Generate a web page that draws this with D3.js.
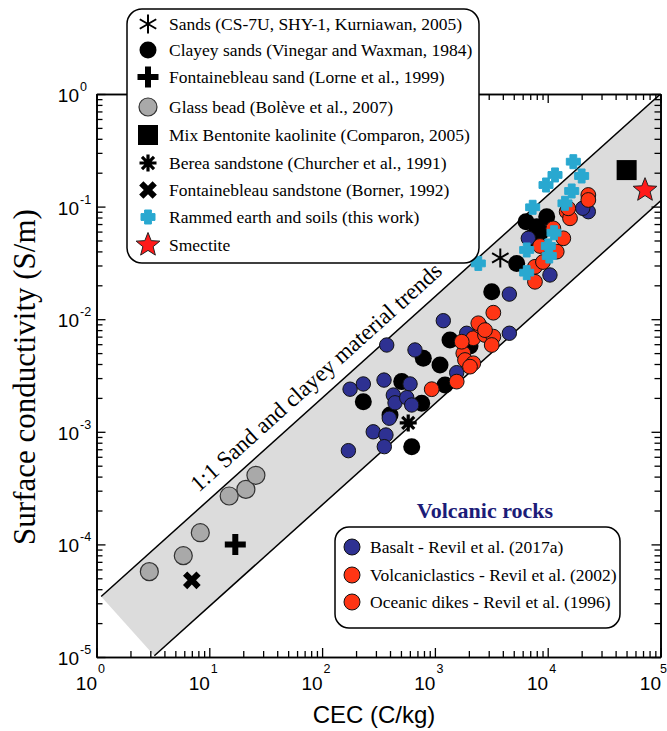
<!DOCTYPE html>
<html>
<head>
<meta charset="utf-8">
<script src="https://cdn.jsdelivr.net/npm/d3@7"></script>
<style>
  body { margin: 0; background: #fff; }
  svg { display: block; }
</style>
</head>
<body>
<svg id="chart" width="667" height="731"></svg>
<script>
// ---- data: [CEC (C/kg), surface conductivity (S/m)] ----
const sands = [[3800, 0.035]];
const clayeySands = [
  [789, 4.5e-3], [1361, 6.54e-3], [1110, 3.92e-3], [508, 2.79e-3], [232, 1.85e-3],
  [764, 1.79e-3], [400, 1.41e-3], [1230, 2.61e-3], [623, 7.38e-4], [2047, 5.78e-3],
  [3190, 0.0175], [5310, 0.0313], [6430, 0.0734], [7990, 0.0663], [9800, 0.0813],
  [7110, 0.0526], [8710, 0.0595]
];
const fontainebleauSand = [[17, 1.0e-4]];
const glassBeads = [[2.94, 5.73e-5], [5.88, 7.94e-5], [8.32, 1.27e-4], [15.0, 2.69e-4], [21.1, 3.08e-4], [25.9, 4.11e-4]];
const bentoniteKaolinite = [[50100, 0.211]];
const bereaSandstone = [[580, 1.2e-3]];
const fontainebleauSandstone = [[7, 4.8e-5]];
const rammedEarth = [
  [2426, 0.0313], [7360, 0.0986], [9660, 0.1555], [11610, 0.191], [16870, 0.2505],
  [20000, 0.187], [16330, 0.1376], [14230, 0.107], [11380, 0.0586], [10120, 0.0447],
  [10330, 0.0364], [6516, 0.0412], [6516, 0.0259]
];
const smectite = [[72900, 0.14]];
const basalt = [
  [1187, 9.7e-3], [374, 5.9e-3], [666, 5.33e-3], [177, 2.39e-3], [232, 2.66e-3],
  [354, 2.88e-3], [602, 2.66e-3], [428, 2.12e-3], [443, 1.81e-3], [563, 2.01e-3],
  [623, 1.73e-3], [394, 1.32e-3], [284, 1.0e-3], [368, 9.37e-4], [356, 7.38e-4],
  [171, 6.8e-4], [1560, 3.35e-3], [1914, 7.5e-3], [4571, 0.0167], [4571, 7.5e-3],
  [10470, 0.0247], [22910, 0.0901], [20420, 0.0966], [6730, 0.0523]
];
const volcaniclastics = [
  [22910, 0.1268], [22910, 0.1145], [14730, 0.0901], [15770, 0.0787], [15200, 0.0966],
  [11220, 0.0641], [13750, 0.0523], [8550, 0.0447], [12020, 0.0398], [7710, 0.0292],
  [7710, 0.0215], [9080, 0.0322]
];
const oceanicDikes = [
  [937, 2.39e-3], [1560, 2.79e-3], [1786, 4.98e-3], [1849, 4.34e-3], [2188, 4.06e-3],
  [2047, 3.79e-3], [2188, 6.77e-3], [2780, 7.24e-3], [3296, 7.0e-3], [3190, 5.9e-3],
  [2512, 8.7e-3], [3296, 0.01142], [2426, 9.2e-3], [2780, 8.0e-3], [1729, 6.31e-3]
];

// trend band: log-log line, upper edge reaches 1 S/m at CEC = 1e5
const bandSlope = 0.9;
const bandTopAt1e5 = 1;
const bandWidthDecades = 0.95;
const bandStartCEC = 1.1;
const bandLabel = "1:1 Sand and clayey material trends";
const bandLabelCEC = 9.5;

const xMajor = [1, 10, 100, 1000, 10000, 100000];
const yMajor = [1e-5, 1e-4, 1e-3, 1e-2, 1e-1, 1];
const xExponents = ["0", "1", "2", "3", "4", "5"];
const yExponents = ["-5", "-4", "-3", "-2", "-1", "0"];

const legendMain = [
  "Sands (CS-7U, SHY-1, Kurniawan, 2005)",
  "Clayey sands (Vinegar and Waxman, 1984)",
  "Fontainebleau sand (Lorne et al., 1999)",
  "Glass bead (Bolève et al., 2007)",
  "Mix Bentonite kaolinite (Comparon, 2005)",
  "Berea sandstone (Churcher et al., 1991)",
  "Fontainebleau sandstone (Borner, 1992)",
  "Rammed earth and soils (this work)",
  "Smectite"
];
const legendVolcanic = [
  "Basalt - Revil et al. (2017a)",
  "Volcaniclastics - Revil et al. (2002)",
  "Oceanic dikes - Revil et al. (1996)"
];

// ---- setup ----
const W = 667;
const svg = d3.select("#chart");
const L = 96.5, R = 660.5, T = 94, B = 657;
const x = d3.scaleLog().domain([1, 1e5]).range([L, R]);
const y = d3.scaleLog().domain([1e-5, 1]).range([B, T]);

const BLUE = "#2e3192", RED = "#ff3514", CYAN = "#29a8d0", GREY = "#a9a9a9";
const serif = "'Liberation Serif', 'Times New Roman', serif";
const sans = "'Liberation Sans', Arial, sans-serif";

svg.append("defs").append("clipPath").attr("id", "plot-clip")
  .append("rect").attr("x", L).attr("y", T).attr("width", R - L).attr("height", B - T);

// ---- band ----
const upperEdge = c => bandTopAt1e5 * Math.pow(c / 1e5, bandSlope);
const lowerEdge = c => upperEdge(c) * Math.pow(10, -bandWidthDecades);
const U0 = [x(bandStartCEC), y(upperEdge(bandStartCEC))];
const U1 = [x(1e6), y(upperEdge(1e6))];
const L0 = [x(1), y(lowerEdge(1))];
const L1 = [x(1e6), y(lowerEdge(1e6))];
// foot of the perpendicular from the band start onto the lower edge
const dx = L1[0] - L0[0], dy = L1[1] - L0[1];
const t = ((U0[0] - L0[0]) * dx + (U0[1] - L0[1]) * dy) / (dx * dx + dy * dy);
const F = [L0[0] + t * dx, L0[1] + t * dy];

const band = svg.append("g").attr("clip-path", "url(#plot-clip)");
band.append("path")
  .attr("d", d3.line()([U0, U1, L1, F]) + "Z")
  .attr("fill", "#dcdcdc");
band.append("path").attr("d", d3.line()([U0, U1]))
  .attr("stroke", "#000").attr("stroke-width", 1.5).attr("fill", "none");
band.append("path").attr("d", d3.line()([F, L1]))
  .attr("stroke", "#000").attr("stroke-width", 1.5).attr("fill", "none");

// band label, parallel to the upper edge
const ang = Math.atan2(U1[1] - U0[1], U1[0] - U0[0]) * 180 / Math.PI;
svg.append("text")
  .attr("transform", `translate(${x(bandLabelCEC)},${y(upperEdge(bandLabelCEC))}) rotate(${ang})`)
  .attr("x", 0).attr("y", -12)
  .attr("font-family", serif).attr("font-size", 23)
  .text(bandLabel);

// ---- axes (ticks inward on all four sides) ----
const xMinor = [], yMinor = [];
for (let k = 0; k < 5; k++) for (let m = 2; m <= 9; m++) {
  xMinor.push(m * Math.pow(10, k));
  yMinor.push(m * Math.pow(10, k - 5));
}
function drawAxis(axisFn, scale, major, minor, transform) {
  const g1 = svg.append("g").attr("transform", transform)
    .call(axisFn(scale).tickValues(major).tickSize(-9).tickSizeOuter(0).tickFormat(""));
  const g2 = svg.append("g").attr("transform", transform)
    .call(axisFn(scale).tickValues(minor).tickSize(-6).tickSizeOuter(0).tickFormat(""));
  [g1, g2].forEach(g => {
    g.selectAll("line").attr("stroke", "#000").attr("stroke-width", 1.3);
    g.select(".domain").attr("stroke", "#000").attr("stroke-width", 1.6);
  });
}
drawAxis(d3.axisBottom, x, xMajor, xMinor, `translate(0,${B})`);
drawAxis(d3.axisTop, x, xMajor, xMinor, `translate(0,${T})`);
drawAxis(d3.axisLeft, y, yMajor, yMinor, `translate(${L},0)`);
drawAxis(d3.axisRight, y, yMajor, yMinor, `translate(${R},0)`);

// tick labels: 10 with a superscript exponent
const xl = svg.append("g").attr("font-family", sans).attr("fill", "#000");
xMajor.forEach((v, i) => {
  xl.append("text").attr("x", x(v) + 0.5).attr("y", 690).attr("text-anchor", "end")
    .attr("font-size", 19).text("10");
  xl.append("text").attr("x", Math.min(x(v) + 1.5, W - 7)).attr("y", 673)
    .attr("font-size", 12.5).text(xExponents[i]);
});
const yl = svg.append("g").attr("font-family", sans).attr("fill", "#000");
yMajor.forEach((v, i) => {
  yl.append("text").attr("x", 79).attr("y", y(v) + 8).attr("text-anchor", "end")
    .attr("font-size", 19).text("10");
  yl.append("text").attr("x", 80).attr("y", y(v) - 3).attr("font-size", 12.5).text(yExponents[i]);
});

// axis titles
svg.append("text").attr("x", 374).attr("y", 723).attr("text-anchor", "middle")
  .attr("font-family", sans).attr("font-size", 24).text("CEC (C/kg)");
svg.append("text").attr("transform", "translate(35,377) rotate(-90)")
  .attr("text-anchor", "middle").attr("font-family", serif).attr("font-size", 31)
  .text("Surface conductivity (S/m)");

// ---- marker shapes ----
function plusPath(ext, hw) {
  return `M${-hw},${-ext}H${hw}V${-hw}H${ext}V${hw}H${hw}V${ext}H${-hw}V${hw}H${-ext}V${-hw}H${-hw}Z`;
}
function starPath(ro, ri) {
  const pts = [];
  for (let i = 0; i < 10; i++) {
    const r = i % 2 ? ri : ro, a = -Math.PI / 2 + i * Math.PI / 5;
    pts.push([r * Math.cos(a), r * Math.sin(a)]);
  }
  return d3.line()(pts) + "Z";
}
function asteriskPath(r, angles) {
  return angles.map(a => {
    const c = Math.cos(a * Math.PI / 180) * r, s = Math.sin(a * Math.PI / 180) * r;
    return `M${-c},${-s}L${c},${s}`;
  }).join("");
}
const markers = {
  sands: g => g.append("path").attr("d", asteriskPath(9.5, [90, 30, 150]))
    .attr("stroke", "#000").attr("stroke-width", 2).attr("fill", "none"),
  clay: g => g.append("circle").attr("r", 8.5).attr("fill", "#000"),
  plus: g => g.append("path").attr("d", plusPath(10.5, 3)).attr("fill", "#000"),
  bead: g => g.append("circle").attr("r", 9).attr("fill", GREY).attr("stroke", "#333").attr("stroke-width", 1.2),
  square: g => g.append("rect").attr("x", -10).attr("y", -10).attr("width", 20).attr("height", 20).attr("fill", "#000"),
  berea: g => g.append("path").attr("d", asteriskPath(8.5, [0, 45, 90, 135]))
    .attr("stroke", "#000").attr("stroke-width", 3.2).attr("fill", "none"),
  cross: g => g.append("path").attr("d", plusPath(9.5, 3)).attr("fill", "#000").attr("transform", "rotate(45)"),
  rammed: g => g.append("path").attr("d", plusPath(7, 3.4)).attr("fill", CYAN).attr("stroke", CYAN)
    .attr("stroke-width", 1).attr("stroke-linejoin", "round"),
  star: g => g.append("path").attr("d", starPath(12.5, 5.4)).attr("fill", "#ff1a1a")
    .attr("stroke", "#222").attr("stroke-width", 1),
  basalt: g => g.append("circle").attr("r", 7.2).attr("fill", BLUE).attr("stroke", "#111").attr("stroke-width", 1),
  red: g => g.append("circle").attr("r", 7.4).attr("fill", RED).attr("stroke", "#111").attr("stroke-width", 1)
};

function plotSeries(data, shape) {
  const g = svg.append("g").attr("clip-path", "url(#plot-clip)");
  data.forEach(d => {
    const m = g.append("g").attr("transform", `translate(${x(d[0])},${y(d[1])})`);
    markers[shape](m);
  });
}
plotSeries(clayeySands, "clay");
plotSeries(basalt, "basalt");
plotSeries(oceanicDikes, "red");
plotSeries(volcaniclastics, "red");
plotSeries(rammedEarth, "rammed");
plotSeries(glassBeads, "bead");
plotSeries(fontainebleauSand, "plus");
plotSeries(fontainebleauSandstone, "cross");
plotSeries(bereaSandstone, "berea");
plotSeries(sands, "sands");
plotSeries(bentoniteKaolinite, "square");
plotSeries(smectite, "star");

// ---- main legend ----
const lg = svg.append("g");
lg.append("rect").attr("x", 127).attr("y", 9).attr("width", 352).attr("height", 254)
  .attr("rx", 15).attr("ry", 15).attr("fill", "#fff").attr("stroke", "#000").attr("stroke-width", 1.5);
const legendShapes = ["sands", "clay", "plus", "bead", "square", "berea", "cross", "rammed", "star"];
const legendRowY = [24, 50, 77, 107, 135, 163, 190, 217, 245];
legendMain.forEach((txt, i) => {
  const m = lg.append("g").attr("transform", `translate(148,${legendRowY[i]})`);
  markers[legendShapes[i]](m);
  lg.append("text").attr("x", 169).attr("y", legendRowY[i] + 6)
    .attr("font-family", serif).attr("font-size", 17.5).text(txt);
});

// ---- volcanic rocks legend ----
svg.append("text").attr("x", 485).attr("y", 518).attr("text-anchor", "middle")
  .attr("font-family", serif).attr("font-size", 22).attr("font-weight", "bold")
  .attr("fill", "#1c1c78").text("Volcanic rocks");
const vg = svg.append("g");
vg.append("rect").attr("x", 335).attr("y", 527).attr("width", 285).attr("height", 101)
  .attr("rx", 14).attr("ry", 14).attr("fill", "#fff").attr("stroke", "#000").attr("stroke-width", 1.5);
const volcanicRowY = [547, 575, 602];
const volcanicColors = [BLUE, RED, RED];
legendVolcanic.forEach((txt, i) => {
  vg.append("circle").attr("cx", 352).attr("cy", volcanicRowY[i]).attr("r", 8)
    .attr("fill", volcanicColors[i]).attr("stroke", "#111").attr("stroke-width", 1);
  vg.append("text").attr("x", 370).attr("y", volcanicRowY[i] + 6)
    .attr("font-family", serif).attr("font-size", 17.5).text(txt);
});
</script>
</body>
</html>
